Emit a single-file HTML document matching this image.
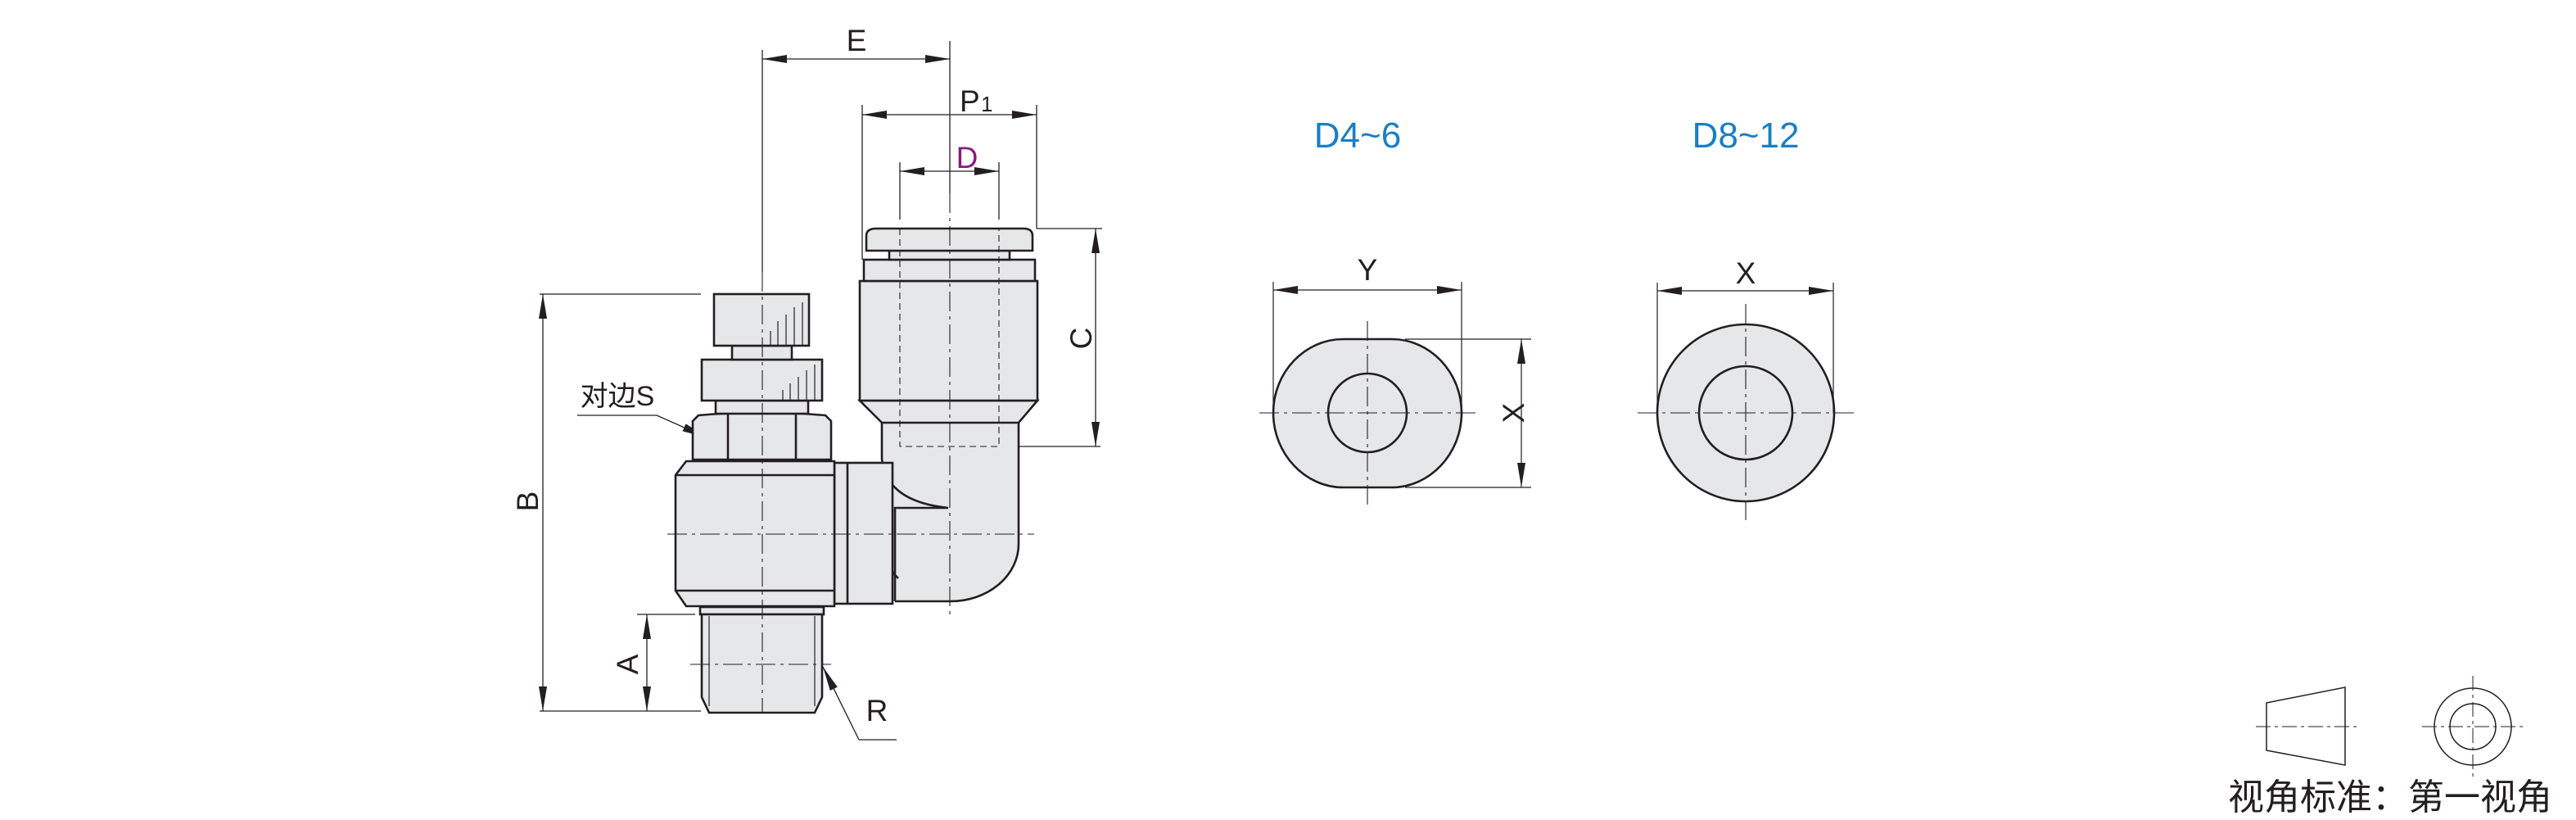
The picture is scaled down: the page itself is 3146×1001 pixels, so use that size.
<!DOCTYPE html>
<html><head><meta charset="utf-8"><style>
html,body{margin:0;padding:0;background:#fff}
svg{display:block}
text{font-family:"Liberation Sans","Noto Sans CJK SC",sans-serif;fill:#231f20}
</style></head><body>
<svg width="3146" height="1001" viewBox="0 0 3146 1001" xmlns="http://www.w3.org/2000/svg">
<defs>
<marker id="a" markerUnits="userSpaceOnUse" markerWidth="30" markerHeight="10" refX="30" refY="5" orient="auto-start-reverse"><path d="M0,0 L30,5 L0,10 z" fill="#231f20"/></marker>
</defs>
<g stroke="#231f20" fill="none">
<g stroke-width="1.3">
<line x1="931" y1="61" x2="931" y2="332"/>
<line x1="1160" y1="50" x2="1160" y2="236"/>
<line x1="931" y1="72" x2="1160" y2="72" marker-start="url(#a)" marker-end="url(#a)"/>
<line x1="1053" y1="128" x2="1053" y2="317"/>
<line x1="1266" y1="128" x2="1266" y2="279"/>
<line x1="1053" y1="140" x2="1266" y2="140" marker-start="url(#a)" marker-end="url(#a)"/>
<line x1="1099" y1="198" x2="1099" y2="268"/>
<line x1="1220" y1="198" x2="1220" y2="268"/>
<line x1="1099" y1="209" x2="1220" y2="209" marker-start="url(#a)" marker-end="url(#a)"/>
<line x1="1266" y1="279" x2="1346" y2="279"/>
<line x1="1229" y1="545" x2="1344" y2="545"/>
<line x1="1338" y1="279" x2="1338" y2="545" marker-start="url(#a)" marker-end="url(#a)"/>
<line x1="659" y1="359" x2="856" y2="359"/>
<line x1="659" y1="868" x2="856" y2="868"/>
<line x1="663" y1="359" x2="663" y2="868" marker-start="url(#a)" marker-end="url(#a)"/>
<line x1="778" y1="750" x2="849" y2="750"/>
<line x1="790" y1="750" x2="790" y2="868" marker-start="url(#a)" marker-end="url(#a)"/>
<polyline points="705,507 802,507"/>
<line x1="802" y1="507" x2="863" y2="534" marker-end="url(#a)"/>
<line x1="1049" y1="903" x2="1005" y2="814" marker-end="url(#a)"/>
<line x1="1049" y1="903" x2="1095" y2="903"/>
</g>
<g fill="#e6e7e9" stroke-width="2.6">
<path d="M1077,516 H1244 V664 A83,70 0 0 1 1161,734 H1093 V706 Q1080,690 1077,658 Z" stroke="none"/>
<path d="M1244,516 V664 A83,70 0 0 1 1161,734 H1093" fill="none"/>
<path d="M1077,516 V560 Q1082,612 1158,620 H1093 V734" fill="none"/>
<path d="M1077,620 V658 Q1080,690 1097,706" fill="none"/>
<path d="M1050,489 H1267 L1244,516 H1077 Z"/>
<rect x="1050" y="343" width="217" height="146"/>
<rect x="1055" y="317" width="209" height="26"/>
<rect x="1086" y="306" width="147" height="11"/>
<path d="M1058,306 V288 Q1058,279 1070,279 H1250 Q1261,279 1261,288 V306 Z"/>
<rect x="1019" y="565" width="71" height="172"/>
<line x1="1035" y1="565" x2="1035" y2="737"/>
<path d="M838,563 H1019 V740 H838 L825,721 V580 Z"/>
<line x1="825" y1="580" x2="1019" y2="580"/>
<line x1="825" y1="721" x2="1019" y2="721"/>
<path d="M853,507 Q930,500 1008,507 L1015,514 V561 H846 V514 Z"/>
<line x1="889" y1="505" x2="889" y2="561"/>
<line x1="972" y1="505" x2="972" y2="561"/>
<rect x="874" y="489" width="113" height="16"/>
<rect x="857" y="439" width="147" height="50"/>
<rect x="894" y="422" width="73" height="17"/>
<rect x="872" y="359" width="116" height="63"/>
<rect x="855" y="741" width="151" height="9"/>
<path d="M857,750 H1004 V851 L995,870 H866 L857,851 Z"/>
</g>
<g stroke-width="1.2">
<line x1="866" y1="752" x2="866" y2="862"/><line x1="995" y1="752" x2="995" y2="862"/>
<line x1="941" y1="404" x2="941" y2="422"/><line x1="950" y1="392" x2="950" y2="422"/><line x1="960" y1="384" x2="960" y2="422"/><line x1="970" y1="375" x2="970" y2="422"/><line x1="980" y1="369" x2="980" y2="422"/>
<line x1="956" y1="476" x2="956" y2="489"/><line x1="965" y1="468" x2="965" y2="489"/><line x1="975" y1="460" x2="975" y2="489"/><line x1="985" y1="452" x2="985" y2="489"/><line x1="995" y1="445" x2="995" y2="489"/>
</g>
<g stroke-width="1.1" stroke-dasharray="8 5">
<path d="M1099,279 V545 H1220 V279"/>
</g>
<g stroke-width="1.1" stroke-dasharray="24 6 4 6">
<line x1="1160" y1="236" x2="1160" y2="750"/>
<line x1="931" y1="332" x2="931" y2="871"/>
<line x1="815" y1="652" x2="1263" y2="652"/>
<line x1="843" y1="811" x2="1015" y2="811"/>
</g>
<path d="M1640,414 H1700 C1746,414 1785,454 1785,504 C1785,554 1746,595 1700,595 H1640 C1594,595 1555,554 1555,504 C1555,454 1594,414 1640,414 Z" fill="#e6e7e9" stroke-width="2.6"/>
<ellipse cx="1670" cy="504" rx="48" ry="48" stroke-width="2.6"/>
<circle cx="2132" cy="504" r="108" fill="#e6e7e9" stroke-width="2.6"/>
<circle cx="2132" cy="504" r="57" stroke-width="2.6"/>
<g stroke-width="1.2">
<line x1="1555" y1="344" x2="1555" y2="504"/><line x1="1785" y1="344" x2="1785" y2="504"/>
<line x1="1555" y1="354" x2="1785" y2="354" marker-start="url(#a)" marker-end="url(#a)"/>
<line x1="1716" y1="414" x2="1870" y2="414"/><line x1="1716" y1="595" x2="1870" y2="595"/>
<line x1="1858" y1="414" x2="1858" y2="595" marker-start="url(#a)" marker-end="url(#a)"/>
<line x1="2024" y1="345" x2="2024" y2="504"/><line x1="2239" y1="345" x2="2239" y2="504"/>
<line x1="2024" y1="355" x2="2239" y2="355" marker-start="url(#a)" marker-end="url(#a)"/>
</g>
<g stroke-width="1.1" stroke-dasharray="24 6 4 6">
<line x1="1538" y1="504" x2="1805" y2="504"/><line x1="1670" y1="392" x2="1670" y2="616"/>
<line x1="2000" y1="504" x2="2264" y2="504"/><line x1="2132" y1="371" x2="2132" y2="638"/>
</g>
<g stroke-width="1.5">
<polygon points="2768,858 2864,839 2864,934 2768,916"/>
<circle cx="3020" cy="887" r="47"/><circle cx="3020" cy="887" r="28"/>
</g>
<g stroke-width="1" stroke-dasharray="18 5 4 5">
<line x1="2755" y1="887" x2="2878" y2="887"/>
<line x1="2958" y1="887" x2="3082" y2="887"/><line x1="3020" y1="825" x2="3020" y2="948"/>
</g>
</g>
<text x="1046" y="62" font-size="37" text-anchor="middle">E</text>
<text x="1172" y="136" font-size="37">P</text><text x="1198" y="136" font-size="26">1</text>
<text x="1181" y="205" font-size="37" text-anchor="middle" style="fill:#8b1a7f">D</text>
<text transform="translate(1333,413) rotate(-90)" font-size="37" text-anchor="middle">C</text>
<text transform="translate(657,612) rotate(-90)" font-size="37" text-anchor="middle">B</text>
<text transform="translate(779,811) rotate(-90)" font-size="37" text-anchor="middle">A</text>
<text x="1071" y="880" font-size="37" text-anchor="middle">R</text>
<text x="754" y="495" font-size="34" text-anchor="middle">对边S</text>
<text x="1658" y="180" font-size="44" text-anchor="middle" style="fill:#1a7fc4">D4~6</text>
<text x="2132" y="180" font-size="44" text-anchor="middle" style="fill:#1a7fc4">D8~12</text>
<text x="1670" y="342" font-size="37" text-anchor="middle">Y</text>
<text transform="translate(1848,504) rotate(-90)" font-size="37" text-anchor="middle" dy="13">X</text>
<text x="2132" y="346" font-size="37" text-anchor="middle">X</text>
<text x="2919" y="988" font-size="44" text-anchor="middle">视角标准：第一视角</text>
</svg>
</body></html>
